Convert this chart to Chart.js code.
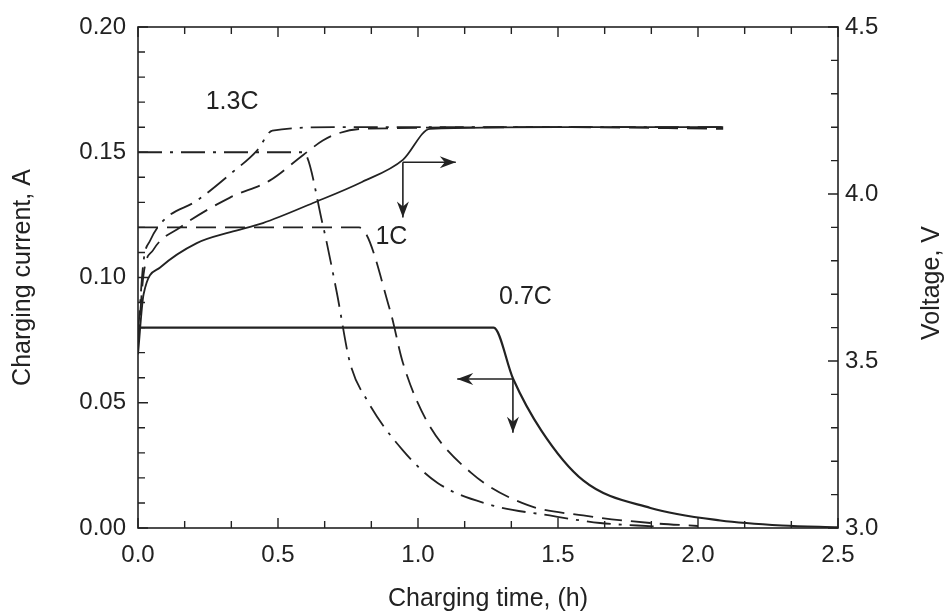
<!DOCTYPE html>
<html>
<head>
<meta charset="utf-8">
<script src="https://cdn.jsdelivr.net/npm/chart.js@4"></script>
<style>
  html, body { margin: 0; padding: 0; background: #fff; }
  #wrap { width: 950px; height: 616px; }
</style>
</head>
<body>
<div id="wrap"><canvas id="myChart" width="950" height="616"></canvas></div>
<script>
"use strict";

// charging current (left axis, A)
let cur07Time = [0, 1.27, 1.34, 1.44, 1.59, 1.83, 2.08, 2.3, 2.5];
let cur07Amp = [0.08, 0.08, 0.0595, 0.039, 0.019, 0.008, 0.003, 0.001, 0.0003];
let cur10Time = [0, 0.79, 0.9, 0.946, 1.03, 1.19, 1.39, 1.59, 1.83, 2.0];
let cur10Amp = [0.12, 0.12, 0.087, 0.066, 0.043, 0.022, 0.0092, 0.005, 0.002, 0.0008];
let cur13Time = [0, 0.59, 0.66, 0.71, 0.757, 0.818, 0.946, 1.07, 1.26, 1.47, 1.65, 1.85];
let cur13Amp = [0.15, 0.15, 0.121, 0.094, 0.066, 0.051, 0.031, 0.018, 0.0092, 0.005, 0.002, 0.0006];

// voltage (right axis, V)
let volt07Time = [0, 0.02, 0.079, 0.21, 0.33, 0.446, 0.625, 0.8, 0.946, 1.043, 1.5, 2.09];
let volt07V = [3.52, 3.7, 3.78, 3.853, 3.886, 3.913, 3.973, 4.036, 4.102, 4.195, 4.2, 4.2];
let volt10Time = [0, 0.02, 0.054, 0.15, 0.33, 0.47, 0.59, 0.66, 0.71, 0.8, 1.5, 2.09];
let volt10V = [3.55, 3.76, 3.832, 3.9, 3.99, 4.04, 4.117, 4.16, 4.18, 4.195, 4.2, 4.195];
let volt13Time = [0, 0.02, 0.043, 0.09, 0.21, 0.33, 0.425, 0.48, 0.7, 1.5, 2.09];
let volt13V = [3.58, 3.8, 3.86, 3.92, 3.98, 4.06, 4.13, 4.19, 4.2, 4.2, 4.2];

// axes
let xTickLabels = [0, 0.5, 1.0, 1.5, 2.0, 2.5];
let currentTickLabels = [0, 0.05, 0.1, 0.15, 0.2];
let voltageTickLabels = [3.0, 3.5, 4.0, 4.5];

// curve labels: [text, time, current]
let curveLabels = [
  ["1.3C", 0.336, 0.170],
  ["1C", 0.905, 0.116],
  ["0.7C", 1.384, 0.092]
];
// arrows: origin [time, current], horizontal end time, vertical end current
let arrowMarks = [
  { t: 0.946, a: 0.146, tEnd: 1.135, aEnd: 0.124 },
  { t: 1.339, a: 0.0595, tEnd: 1.14, aEnd: 0.038 }
];

const ink = "#222";
const fontFam = "'Liberation Sans', Arial, Helvetica, sans-serif";

function pairs(xs, ys) {
  let out = [];
  for (let i = 0; i < xs.length; i++) {
    out.push({ x: xs[i], y: ys[i] });
  }
  return out;
}

function lineSet(label, xs, ys, axis, dash, width) {
  return {
    label: label,
    data: pairs(xs, ys),
    yAxisID: axis,
    borderColor: ink,
    borderWidth: width || 1.8,
    borderDash: dash,
    pointRadius: 0,
    fill: false,
    cubicInterpolationMode: "monotone"
  };
}

const dashLong = [20, 9];
const dashDot = [24, 8, 3, 8];

// inward ticks, frame, labels and arrows
const framePlugin = {
  id: "frame",
  afterDraw(chart) {
    const ctx = chart.ctx;
    const area = chart.chartArea;
    const x = chart.scales.x;
    const yL = chart.scales.yCur;
    const yR = chart.scales.yVolt;
    ctx.save();
    ctx.strokeStyle = ink;
    ctx.lineWidth = 1.6;
    ctx.strokeRect(area.left, area.top, area.right - area.left, area.bottom - area.top);

    ctx.lineWidth = 1.4;
    ctx.beginPath();
    // x ticks, bottom and top, every 10 min
    for (let i = 0; i <= 15; i++) {
      let px = x.getPixelForValue(i / 6);
      let len = i % 3 === 0 ? 10 : 7;
      ctx.moveTo(px, area.bottom);
      ctx.lineTo(px, area.bottom - len);
      ctx.moveTo(px, area.top);
      ctx.lineTo(px, area.top + len);
    }
    // left ticks every 0.01 A
    for (let i = 0; i <= 20; i++) {
      let py = yL.getPixelForValue(i / 100);
      let len = i % 5 === 0 ? 10 : 7;
      ctx.moveTo(area.left, py);
      ctx.lineTo(area.left + len, py);
    }
    // right ticks every 0.1 V
    for (let i = 0; i <= 15; i++) {
      let py = yR.getPixelForValue(3 + i / 10);
      let len = i % 5 === 0 ? 10 : 7;
      ctx.moveTo(area.right, py);
      ctx.lineTo(area.right - len, py);
    }
    ctx.stroke();

    // arrows
    ctx.lineWidth = 1.6;
    ctx.fillStyle = ink;
    arrowMarks.forEach(function (m) {
      let ox = x.getPixelForValue(m.t);
      let oy = yL.getPixelForValue(m.a);
      let hx = x.getPixelForValue(m.tEnd);
      let vy = yL.getPixelForValue(m.aEnd);
      ctx.beginPath();
      ctx.moveTo(ox, oy);
      ctx.lineTo(hx, oy);
      ctx.moveTo(ox, oy);
      ctx.lineTo(ox, vy);
      ctx.stroke();
      let dir = hx > ox ? 1 : -1;
      ctx.beginPath();
      ctx.moveTo(hx, oy);
      ctx.lineTo(hx - dir * 16, oy - 6);
      ctx.lineTo(hx - dir * 11, oy);
      ctx.lineTo(hx - dir * 16, oy + 6);
      ctx.closePath();
      ctx.fill();
      ctx.beginPath();
      ctx.moveTo(ox, vy);
      ctx.lineTo(ox - 6, vy - 16);
      ctx.lineTo(ox, vy - 11);
      ctx.lineTo(ox + 6, vy - 16);
      ctx.closePath();
      ctx.fill();
    });

    // curve labels
    ctx.font = "25px " + fontFam;
    ctx.textAlign = "center";
    ctx.textBaseline = "middle";
    curveLabels.forEach(function (c) {
      ctx.fillText(c[0], x.getPixelForValue(c[1]), yL.getPixelForValue(c[2]));
    });

    // right axis title, reading upward
    ctx.font = "25px " + fontFam;
    ctx.translate(932, 283);
    ctx.rotate(-Math.PI / 2);
    ctx.fillText("Voltage, V", 0, 0);
    ctx.restore();
  }
};

const config = {
  type: "line",
  data: {
    datasets: [
      lineSet("I 0.7C", cur07Time, cur07Amp, "yCur", [], 2.2),
      lineSet("I 1C", cur10Time, cur10Amp, "yCur", dashLong),
      lineSet("I 1.3C", cur13Time, cur13Amp, "yCur", dashDot),
      lineSet("V 0.7C", volt07Time, volt07V, "yVolt", []),
      lineSet("V 1C", volt10Time, volt10V, "yVolt", dashLong),
      lineSet("V 1.3C", volt13Time, volt13V, "yVolt", dashDot)
    ]
  },
  options: {
    responsive: false,
    animation: false,
    layout: { padding: { top: 27, left: 0, right: 0, bottom: 0 } },
    plugins: {
      legend: { display: false },
      tooltip: { enabled: false }
    },
    scales: {
      x: {
        type: "linear",
        min: 0,
        max: 2.5,
        afterBuildTicks: function (s) {
          s.ticks = xTickLabels.map(function (v) { return { value: v }; });
        },
        afterFit: function (s) { s.height = 88; },
        grid: { display: false, drawTicks: false },
        border: { display: false },
        ticks: {
          color: ink,
          padding: 13,
          maxRotation: 0,
          font: { family: fontFam, size: 24 },
          callback: function (v) { return v.toFixed(1); }
        },
        title: {
          display: true,
          text: "Charging time, (h)",
          color: ink,
          font: { family: fontFam, size: 25 },
          padding: { top: 0, bottom: 2 }
        }
      },
      yCur: {
        type: "linear",
        position: "left",
        min: 0,
        max: 0.2,
        afterBuildTicks: function (s) {
          s.ticks = currentTickLabels.map(function (v) { return { value: v }; });
        },
        afterFit: function (s) { s.width = 138; },
        grid: { display: false, drawTicks: false },
        border: { display: false },
        ticks: {
          color: ink,
          padding: 12,
          font: { family: fontFam, size: 24 },
          callback: function (v) { return v.toFixed(2); }
        },
        title: {
          display: true,
          text: "Charging current, A",
          color: ink,
          font: { family: fontFam, size: 25 },
          padding: { top: 8, bottom: 0 }
        }
      },
      yVolt: {
        type: "linear",
        position: "right",
        min: 3.0,
        max: 4.5,
        afterBuildTicks: function (s) {
          s.ticks = voltageTickLabels.map(function (v) { return { value: v }; });
        },
        afterFit: function (s) { s.width = 112; },
        grid: { display: false, drawTicks: false },
        border: { display: false },
        ticks: {
          color: ink,
          padding: 7,
          font: { family: fontFam, size: 24 },
          callback: function (v) { return v.toFixed(1); }
        }
      }
    }
  },
  plugins: [framePlugin]
};

const canvasChart = document.getElementById("myChart");
new Chart(canvasChart, config);
</script>
</body>
</html>
